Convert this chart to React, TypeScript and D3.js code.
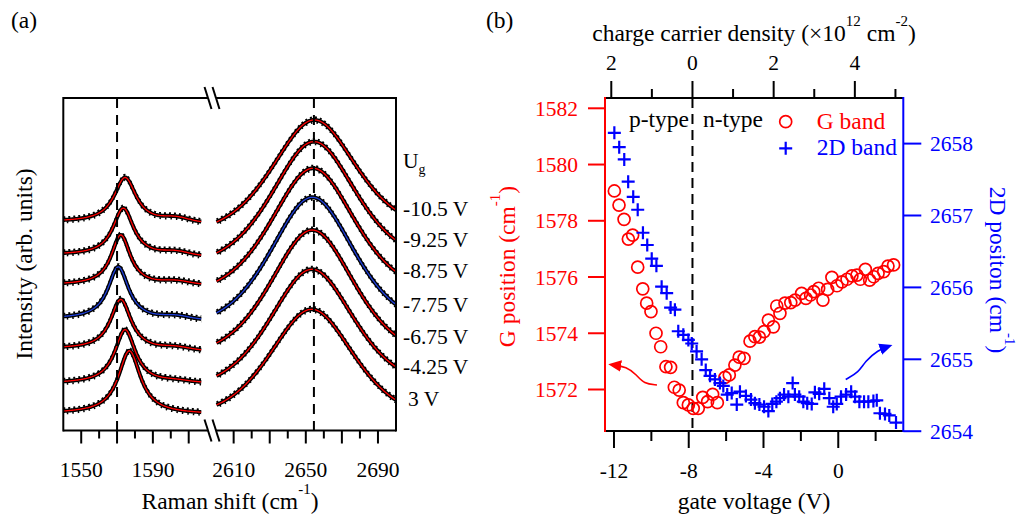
import React from "react";
import * as d3 from "d3";

// ---------------- Panel (a): Raman spectra (fit parameters) ----------------
const gateLabels = ["-10.5 V", "-9.25 V", "-8.75 V", "-7.75 V", "-6.75 V", "-4.25 V", "3 V"];
const fitColors = ["#ff0000", "#ff0000", "#ff0000", "#1f3fd8", "#ff0000", "#ff0000", "#ff0000"];
// G region
const gBaseLeft = [208.5, 175.5, 145.5, 111.5, 81.5, 47.0, 17.0];
const gBaseRight = [207.0, 173.7, 145.3, 110.0, 79.2, 47.0, 16.2];
const gPeakPos = [1574.5, 1573.5, 1572.1, 1570.7, 1572.1, 1574.5, 1576.9];
const gPeakAmp = [45.2, 47.7, 50.1, 52.8, 50.6, 53.9, 63.1];
const gPeakWidth = [15, 14, 13, 14, 14, 14, 15];
const gShoulderAmp = [4, 3.5, 3, 3, 2.5, 1.5, 0];
const gShoulderPos = 1603;
const gShoulderSigma = 7;
// 2D region
const d2BaseLeft = [192.1, 159.5, 130.2, 97.7, 68.0, 36.1, 8.7];
const d2BaseRight = [195.3, 163.1, 131.3, 98.3, 67.8, 38.6, 7.7];
const d2PeakPos = [2654.6, 2654.4, 2654.0, 2653.6, 2653.6, 2653.3, 2653.3];
const d2PeakAmp = [116.7, 127.4, 131.4, 135.2, 132.6, 123.8, 113.0];
const d2PeakWidth = 55.6;
const gRange = [1540, 1617];
const d2Range = [2600.5, 2700];
const ramanTicksLeft = [1550, 1560, 1570, 1580, 1590, 1600, 1610];
const ramanTicksRight = [2610, 2620, 2630, 2640, 2650, 2660, 2670, 2680, 2690];
const ramanLabels = [1550, 1590, 2610, 2650, 2690];
const ramanDashed = [1570, 2654.5];

// ---------------- Panel (b): peak positions vs gate voltage ----------------
const gVoltage = [-11.98, -11.73, -11.46, -11.23, -11.0, -10.73, -10.46, -10.25, -10.02, -9.75, -9.5, -9.22, -8.97, -8.77, -8.51, -8.29, -8.02, -7.76, -7.49, -7.25, -6.99, -6.72, -6.47, -6.06, -5.83, -5.53, -5.3, -5.04, -4.72, -4.46, -4.22, -3.97, -3.74, -3.47, -3.29, -3.12, -2.85, -2.54, -2.31, -1.96, -1.73, -1.48, -1.31, -1.05, -0.82, -0.57, -0.34, -0.07, 0.2, 0.47, 0.73, 1.0, 1.18, 1.45, 1.68, 1.9, 2.13, 2.43, 2.66, 2.96];
const gPosition = [1579.06, 1578.56, 1578.05, 1577.35, 1577.49, 1576.35, 1575.58, 1575.07, 1574.77, 1574.0, 1573.52, 1572.81, 1572.79, 1572.08, 1571.98, 1571.53, 1571.45, 1571.33, 1571.33, 1571.72, 1571.57, 1571.83, 1571.53, 1572.43, 1572.52, 1572.87, 1573.15, 1573.11, 1573.72, 1573.88, 1573.86, 1574.06, 1574.47, 1574.23, 1574.97, 1574.71, 1575.07, 1575.09, 1575.18, 1575.42, 1575.24, 1575.36, 1575.48, 1575.6, 1575.18, 1575.56, 1575.99, 1575.69, 1575.83, 1575.92, 1576.04, 1576.07, 1575.92, 1576.27, 1575.89, 1576.01, 1576.13, 1576.19, 1576.39, 1576.43];
const d2Voltage = [-11.98, -11.72, -11.45, -11.24, -10.97, -10.73, -10.45, -10.22, -9.98, -9.73, -9.45, -9.18, -8.97, -8.74, -8.56, -8.29, -8.02, -7.84, -7.58, -7.31, -7.09, -6.86, -6.6, -6.33, -6.15, -5.94, -5.7, -5.43, -5.26, -4.94, -4.67, -4.46, -4.22, -3.97, -3.74, -3.53, -3.31, -3.12, -2.9, -2.67, -2.44, -2.32, -2.09, -1.87, -1.66, -1.42, -1.25, -1.02, -0.75, -0.48, -0.27, -0.08, 0.15, 0.42, 0.69, 0.9, 1.13, 1.38, 1.61, 1.88, 2.06, 2.23, 2.5, 2.73, 3.09];
const d2Position = [2658.15, 2657.95, 2657.78, 2657.47, 2657.26, 2657.08, 2656.76, 2656.59, 2656.4, 2656.3, 2656.01, 2655.92, 2655.72, 2655.69, 2655.39, 2655.34, 2655.27, 2655.22, 2655.11, 2655.0, 2654.85, 2654.77, 2654.72, 2654.67, 2654.63, 2654.51, 2654.53, 2654.37, 2654.55, 2654.49, 2654.44, 2654.39, 2654.37, 2654.34, 2654.28, 2654.38, 2654.41, 2654.46, 2654.51, 2654.48, 2654.67, 2654.51, 2654.48, 2654.41, 2654.39, 2654.38, 2654.54, 2654.52, 2654.59, 2654.46, 2654.34, 2654.38, 2654.48, 2654.51, 2654.55, 2654.48, 2654.41, 2654.41, 2654.41, 2654.42, 2654.43, 2654.25, 2654.24, 2654.22, 2654.12];
const voltTicks = [-12, -10, -8, -6, -4, -2, 0, 2];
const voltLabels = [-12, -8, -4, 0];
const gTicks = [1572, 1574, 1576, 1578, 1580, 1582];
const d2Ticks = [2654, 2655, 2656, 2657, 2658];
const densityTicks = [-2, -1, 0, 1, 2, 3, 4, 5];
const densityLabels = [-2, 0, 2, 4];
const diracVoltage = -7.8;
const voltsPerDensityUnit = 2.172;
// annotation arrows (data coords)
const redArrowV = [-9.7, -10.4, -10.79, -11.32, -12.1];
const redArrowG = [1572.16, 1572.2, 1572.52, 1572.81, 1572.88];
const blueArrowV = [0.4, 1.1, 1.43, 2.14, 2.7];
const blueArrowD = [2654.72, 2654.82, 2654.97, 2655.13, 2655.18];

const FONT = "Liberation Serif, DejaVu Serif, serif";
const TICK_FS = 21.5;
const TITLE_FS = 23.5;
const CIRCLE_R = 6;
const PLUS_HALF = 6.5;

function lor(dx: number, w: number) {
  const r = (dx / w) * (dx / w);
  return 1 / (1 + 4 * r);
}
function pv(dx: number, w: number) {
  const r = (dx / w) * (dx / w);
  return 0.5 * Math.exp(-4 * Math.LN2 * r) + 0.5 / (1 + 4 * r);
}

export default function App() {
  // ---- panel (a) scales
  const xL = d3.scaleLinear().domain([1540, 1623]).range([63.3, 212]);
  const xR = d3.scaleLinear().domain([2598, 2700]).range([212, 396]);
  const yI = d3.scaleLinear().domain([0, 332.5]).range([430.5, 98]);
  const aTop = 98, aBot = 430.5, aLeft = 63.3, aRight = 396, brk = 212;

  const gSpec = (i: number) => {
    const pts: [number, number][] = [];
    for (let x = gRange[0]; x <= gRange[1] + 1e-6; x += 0.5) {
      const t = (x - gRange[0]) / (gRange[1] - gRange[0]);
      const base = gBaseLeft[i] + (gBaseRight[i] - gBaseLeft[i]) * t;
      const v = base + gPeakAmp[i] * lor(x - gPeakPos[i], gPeakWidth[i]) +
        gShoulderAmp[i] * Math.exp(-((x - gShoulderPos) ** 2) / (2 * gShoulderSigma * gShoulderSigma));
      pts.push([x, v]);
    }
    return pts;
  };
  const dSpec = (i: number) => {
    const pts: [number, number][] = [];
    for (let x = d2Range[0]; x <= d2Range[1] + 1e-6; x += 0.5) {
      const t = (x - 2600) / 100;
      const base = d2BaseLeft[i] + (d2BaseRight[i] - d2BaseLeft[i]) * t;
      pts.push([x, base + d2PeakAmp[i] * pv(x - d2PeakPos[i], d2PeakWidth)]);
    }
    return pts;
  };
  const lineL = d3.line<[number, number]>().x((d) => xL(d[0])).y((d) => yI(d[1]));
  const lineR = d3.line<[number, number]>().x((d) => xR(d[0])).y((d) => yI(d[1]));

  // ---- panel (b) scales
  const xV = d3.scaleLinear().domain([-12.48, 3.48]).range([605, 903.3]);
  const yG = d3.scaleLinear().domain([1572, 1582]).range([389.5, 108.3]);
  const yD = d3.scaleLinear().domain([2654, 2658]).range([431.2, 143.6]);
  const nOf = (v: number) => (v - diracVoltage) / voltsPerDensityUnit;
  const xN = d3.scaleLinear().domain([nOf(-12.48), nOf(3.48)]).range([605, 903.3]);
  const bTop = 98, bBot = 431, bLeft = 605, bRight = 903.3;

  const arrowPath = (xs: number[], ys: number[]) =>
    d3.line<number>().x((_, k) => xs[k]).y((_, k) => ys[k]).curve(d3.curveBasis)(xs.map((_, k) => k)) || "";

  const redArrow = arrowPath(redArrowV.map((v) => xV(v)), redArrowG.map((g) => yG(g)));
  const blueArrow = arrowPath(blueArrowV.map((v) => xV(v)), blueArrowD.map((d) => yD(d)));

  const spectra = gateLabels.map((_, i) => {
    const gl = lineL(gSpec(i)) || "";
    const dl = lineR(dSpec(i)) || "";
    return (
      <g key={i}>
        {[gl, dl].map((p, k) => (
          <g key={k}>
            <path d={p} fill="none" stroke="#000" strokeWidth={4} />
            <path d={p} fill="none" stroke="#000" strokeWidth={2} strokeDasharray="2 3" transform="translate(0,-2.6)" />
            <path d={p} fill="none" stroke="#000" strokeWidth={2} strokeDasharray="1.5 4" strokeDashoffset={2} transform="translate(0,2.6)" />
            <path d={p} fill="none" stroke={fitColors[i]} strokeWidth={1.3} />
          </g>
        ))}
      </g>
    );
  });

  const labelY = [208.3, 239, 270.7, 304, 336.7, 366.7, 398.3];

  return (
    <svg width={1025} height={516} style={{ position: "absolute", left: 0, top: 0, background: "#fff", fontFamily: FONT }}>
      <defs>
        <marker id="arrRed" viewBox="0 0 10 10" refX="7" refY="5" markerWidth="13" markerHeight="13" orient="auto" markerUnits="userSpaceOnUse">
          <path d="M0,0.5 L10,5 L0,9.5 z" fill="#ff0000" />
        </marker>
        <marker id="arrBlue" viewBox="0 0 10 10" refX="7" refY="5" markerWidth="13" markerHeight="13" orient="auto" markerUnits="userSpaceOnUse">
          <path d="M0,0.5 L10,5 L0,9.5 z" fill="#0000ff" />
        </marker>
      </defs>
      <rect x={0} y={0} width={1025} height={516} fill="#fff" />

      {/* ================= Panel (a) ================= */}
      <text x={11} y={28} fontSize={TITLE_FS}>(a)</text>
      {spectra}
      {/* dashed lines */}
      <line x1={xL(ramanDashed[0])} x2={xL(ramanDashed[0])} y1={aTop} y2={aBot} stroke="#000" strokeWidth={2} strokeDasharray="10 7" />
      <line x1={xR(ramanDashed[1])} x2={xR(ramanDashed[1])} y1={aTop} y2={aBot} stroke="#000" strokeWidth={2} strokeDasharray="10 7" />
      {/* frame */}
      <g stroke="#000" strokeWidth={2} fill="none">
        <line x1={aLeft} x2={aLeft} y1={aTop - 1} y2={aBot + 1} />
        <line x1={aRight} x2={aRight} y1={aTop - 1} y2={aBot + 1} />
        <line x1={aLeft} x2={brk - 4} y1={aTop} y2={aTop} />
        <line x1={brk + 4} x2={aRight} y1={aTop} y2={aTop} />
        <line x1={aLeft} x2={brk - 4} y1={aBot} y2={aBot} />
        <line x1={brk + 4} x2={aRight} y1={aBot} y2={aBot} />
        {[aTop, aBot].map((y0) =>
          [-4, 4].map((o) => (
            <line key={`${y0}${o}`} x1={brk + o - 3.5} y1={y0 - 11} x2={brk + o + 3.5} y2={y0 + 11} stroke="#000" strokeWidth={2} />
          ))
        )}
        {ramanTicksLeft.map((t) => (
          <line key={t} x1={xL(t)} x2={xL(t)} y1={aBot} y2={aBot + ((t - 1550) % 20 === 0 ? 13 : 8)} />
        ))}
        {ramanTicksRight.map((t) => (
          <line key={t} x1={xR(t)} x2={xR(t)} y1={aBot} y2={aBot + ((t - 2610) % 20 === 0 ? 13 : 8)} />
        ))}
      </g>
      {ramanLabels.map((t) => (
        <text key={t} x={t < 2000 ? xL(t) : xR(t)} y={477} fontSize={TICK_FS} textAnchor="middle">{t}</text>
      ))}
      <text x={230} y={509} fontSize={TITLE_FS} textAnchor="middle">
        Raman shift (cm<tspan dy={-15} fontSize={15}>-1</tspan><tspan dy={15}>)</tspan>
      </text>
      <text transform="translate(32,264) rotate(-90)" fontSize={TITLE_FS} textAnchor="middle">Intensity (arb. units)</text>
      <text x={403} y={168} fontSize={TICK_FS}>U<tspan dy={6} fontSize={14}>g</tspan></text>
      {gateLabels.map((l, i) => (
        <text key={l} x={i === 6 ? 408 : 403} y={labelY[i] + 7.5} fontSize={TICK_FS}>{l}</text>
      ))}

      {/* ================= Panel (b) ================= */}
      <text x={486} y={28} fontSize={TITLE_FS}>(b)</text>
      <text x={754} y={41} fontSize={TITLE_FS} textAnchor="middle">
        charge carrier density (×10<tspan dy={-15} fontSize={15}>12</tspan><tspan dy={15}> cm</tspan><tspan dy={-15} fontSize={15}>-2</tspan><tspan dy={15}>)</tspan>
      </text>
      {/* dashed dirac line */}
      <line x1={xV(diracVoltage)} x2={xV(diracVoltage)} y1={bTop} y2={bBot} stroke="#000" strokeWidth={2} strokeDasharray="10 6" />
      {/* top axis */}
      <line x1={bLeft} x2={bRight} y1={bTop} y2={bTop} stroke="#000" strokeWidth={2} />
      {densityTicks.map((t) => (
        <line key={t} x1={xN(t)} x2={xN(t)} y1={bTop} y2={bTop - (t % 2 === 0 ? 17 : 9)} stroke="#000" strokeWidth={2} />
      ))}
      {densityLabels.map((t) => (
        <text key={t} x={xN(t)} y={69.5} fontSize={TICK_FS} textAnchor="middle">{Math.abs(t)}</text>
      ))}
      {/* bottom axis */}
      <line x1={bLeft} x2={bRight} y1={bBot} y2={bBot} stroke="#000" strokeWidth={2} />
      {voltTicks.map((t) => (
        <line key={t} x1={xV(t)} x2={xV(t)} y1={bBot} y2={bBot + (t % 4 === 0 ? 17 : 10)} stroke="#000" strokeWidth={2} />
      ))}
      {voltLabels.map((t) => (
        <text key={t} x={xV(t)} y={478} fontSize={TICK_FS} textAnchor="middle">{t}</text>
      ))}
      <text x={754} y={509} fontSize={TITLE_FS} textAnchor="middle">gate voltage (V)</text>
      {/* left axis (red) */}
      <line x1={bLeft} x2={bLeft} y1={bTop - 1} y2={bBot + 1} stroke="#ff0000" strokeWidth={2} />
      {gTicks.map((t) => (
        <g key={t}>
          <line x1={bLeft - 17} x2={bLeft} y1={yG(t)} y2={yG(t)} stroke="#ff0000" strokeWidth={2} />
          <text x={578} y={yG(t)} dy="0.35em" fontSize={TICK_FS} textAnchor="end" fill="#ff0000">{t}</text>
        </g>
      ))}
      <text transform="translate(515,266.5) rotate(-90)" fontSize={TITLE_FS} textAnchor="middle" fill="#ff0000">
        G position (cm<tspan dy={-15} fontSize={15}>-1</tspan><tspan dy={15}>)</tspan>
      </text>
      {/* right axis (blue) */}
      <line x1={bRight} x2={bRight} y1={bTop - 1} y2={bBot + 1} stroke="#0000ff" strokeWidth={2} />
      {d2Ticks.map((t) => (
        <g key={t}>
          <line x1={bRight} x2={bRight + 18} y1={yD(t)} y2={yD(t)} stroke="#0000ff" strokeWidth={2} />
          <text x={930} y={yD(t)} dy="0.35em" fontSize={TICK_FS} fill="#0000ff">{t}</text>
        </g>
      ))}
      <text transform="translate(990,270) rotate(90)" fontSize={TITLE_FS} textAnchor="middle" fill="#0000ff">
        2D positon (cm<tspan dy={-15} fontSize={15}>-1</tspan><tspan dy={15}>)</tspan>
      </text>

      {/* data */}
      {gVoltage.map((v, i) => (
        <circle key={`g${i}`} cx={xV(v)} cy={yG(gPosition[i])} r={CIRCLE_R} fill="none" stroke="#ff0000" strokeWidth={1.7} />
      ))}
      {d2Voltage.map((v, i) => {
        const cx = xV(v), cy = yD(d2Position[i]);
        return (
          <path key={`d${i}`} d={`M${cx - PLUS_HALF},${cy}H${cx + PLUS_HALF}M${cx},${cy - PLUS_HALF}V${cy + PLUS_HALF}`} stroke="#0000ff" strokeWidth={2.2} />
        );
      })}

      {/* annotations */}
      <text x={629} y={127} fontSize={TITLE_FS}>p-type</text>
      <text x={703} y={127} fontSize={TITLE_FS}>n-type</text>
      <circle cx={785.7} cy={121.7} r={CIRCLE_R} fill="none" stroke="#ff0000" strokeWidth={1.7} />
      <text x={816.7} y={129.3} fontSize={TITLE_FS} fill="#ff0000">G band</text>
      <path d={`M${785.7 - PLUS_HALF},148.3H${785.7 + PLUS_HALF}M785.7,${148.3 - PLUS_HALF}V${148.3 + PLUS_HALF}`} stroke="#0000ff" strokeWidth={2.2} />
      <text x={816.7} y={155} fontSize={TITLE_FS} fill="#0000ff">2D band</text>
      <path d={redArrow} fill="none" stroke="#ff0000" strokeWidth={1.6} markerEnd="url(#arrRed)" />
      <path d={blueArrow} fill="none" stroke="#0000ff" strokeWidth={1.6} markerEnd="url(#arrBlue)" />
    </svg>
  );
}
